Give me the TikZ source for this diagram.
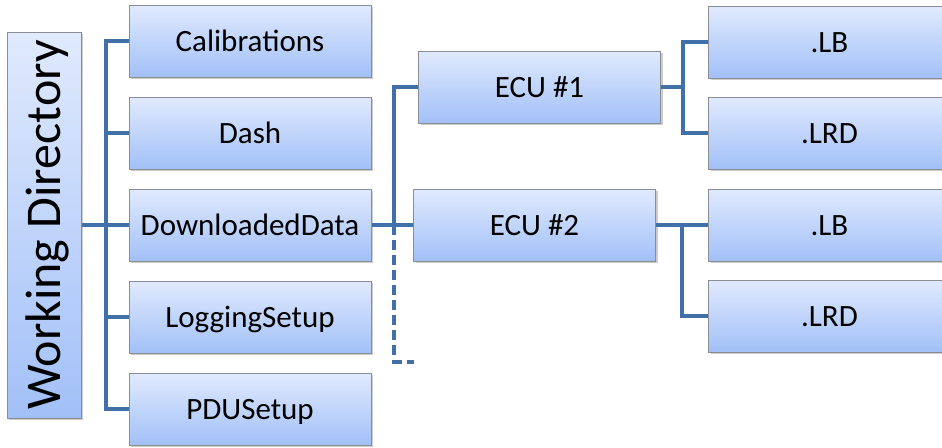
\documentclass[tikz,border=0pt]{standalone}
\usepackage{fontspec}
\setmainfont{Carlito}
\usetikzlibrary{shadows}
\definecolor{linkblue}{HTML}{4170A8}
\definecolor{boxtop}{HTML}{E0EAFD}
\definecolor{boxbot}{HTML}{A2C0F8}
\definecolor{boxline}{HTML}{8A8D93}

\begin{document}
\begin{tikzpicture}[x=1pt,y=-1pt,
    folder/.style={draw=boxline, line width=1pt, top color=boxtop, bottom color=boxbot,
        minimum width=242pt, minimum height=72pt, inner sep=0pt,
        text height=20pt, text depth=0pt, font=\fontsize{31}{36}\selectfont,
        drop shadow={shadow xshift=2pt, shadow yshift=-2pt, opacity=0.4}},
    link/.style={draw=linkblue, line width=4pt}]

    \useasboundingbox (0,0) rectangle (942,447);

    % root
    \node[folder, minimum width=74pt, minimum height=386pt, text height=, text depth=,
        font=\fontsize{50}{60}\selectfont] (wd) at (44,225)
        {\rotatebox{90}{\raisebox{0pt}[32pt][0pt]{Working Directory}}};

    % first level
    \node[folder] (cal)  at (250,41)  {Calibrations};
    \node[folder] (dash) at (250,133) {Dash};
    \node[folder] (dd)   at (250,225) {DownloadedData};
    \node[folder] (log)  at (250,317) {LoggingSetup};
    \node[folder] (pdu)  at (250,409) {PDUSetup};

    % ECUs
    \node[folder] (ecua) at (539.5,87)  {ECU \#1};
    \node[folder] (ecub) at (534.5,225) {ECU \#2};

    % files
    \node[folder] (lba)  at (829.5,42)  {.LB};
    \node[folder] (lrda) at (829.5,133) {.LRD};
    \node[folder] (lbb)  at (829.5,225) {.LB};
    \node[folder] (lrdb) at (829.5,316) {.LRD};

    \draw[link] (wd.east) -- (dd.west);
    \draw[link] (cal.west) -- ++(-23,0) |- (pdu.west);
    \draw[link] (dash.west) -- ++(-23,0);
    \draw[link] (log.west) -- ++(-23,0);

    \draw[link] (dd.east) -- (ecub.west);
    \draw[link] (ecua.west) -- ++(-24,0) |- (dd.east);
    \coordinate (fork) at (394,225);
    \coordinate (more) at (414,362);
    \draw[link, dash pattern=on 10pt off 5pt] (fork) |- (more);

    \draw[link] (ecua.east) -- ++(22,0);
    \draw[link] (lba.west) -- ++(-25,0) |- (lrda.west);
    \draw[link] (ecub.east) -- (lbb.west);
    \draw[link] (lbb.west) ++(-26,0) |- (lrdb.west);

\end{tikzpicture}
\end{document}
